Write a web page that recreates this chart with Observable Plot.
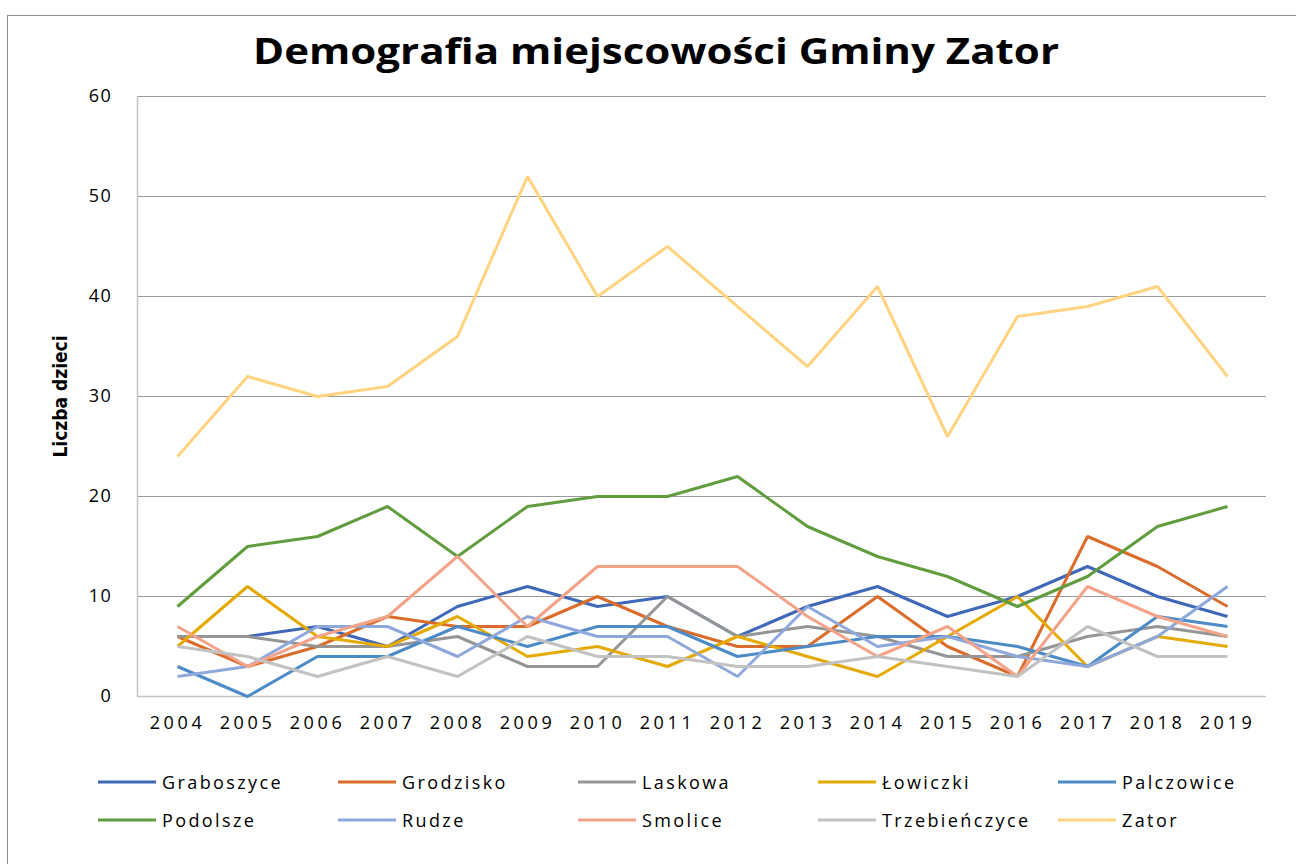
<!DOCTYPE html>
<html>
<head>
<meta charset="utf-8">
<script src="https://cdn.jsdelivr.net/npm/d3@7"></script>
<script src="https://cdn.jsdelivr.net/npm/@observablehq/plot@0.6"></script>
<style>
  html, body { margin: 0; padding: 0; background: #fff; }
  #wrap { position: relative; width: 1296px; height: 864px; overflow: hidden; background: #fff; font-family: "Open Sans", sans-serif; }
  #frame { position: absolute; left: 7px; top: 15px; width: 1400px; height: 1000px; border-left: 1px solid #8c8c8c; border-top: 1px solid #8c8c8c; }
  #title { position: absolute; left: 0; top: 20px; width: 1296px; height: 60px; }
  #plot { position: absolute; left: 0; top: 80px; }
  #legend { position: absolute; left: 98px; top: 763px; width: 1200px; }
  .lrow { display: flex; height: 38px; align-items: center; }
  .litem { display: flex; align-items: center; width: 242px; }
  .litem span { font-size: 18px; letter-spacing: 2.4px; color: #000; margin-left: 6px; }
</style>
</head>
<body>
<div id="wrap">
  <div id="frame"></div>
  <svg id="title" width="1296" height="60">
    <text id="titleText" x="656" y="44" text-anchor="middle" font-family="Open Sans" font-weight="bold" font-size="35" fill="#000" textLength="806" lengthAdjust="spacingAndGlyphs"></text>
  </svg>
  <div id="plot"></div>
  <div id="legend"></div>
</div>
<script>
const chartTitle = "Demografia miejscowości Gminy Zator";
const yTitle = "Liczba dzieci";
const years = ["2004","2005","2006","2007","2008","2009","2010","2011","2012","2013","2014","2015","2016","2017","2018","2019"];
const yTicks = [0, 10, 20, 30, 40, 50, 60];

const names = ["Graboszyce","Grodzisko","Laskowa","Łowiczki","Palczowice","Podolsze","Rudze","Smolice","Trzebieńczyce","Zator"];
const colors = ["#3f68b8","#da6d2b","#959595","#e5aa00","#4c8bc6","#619c3f","#8fa8dc","#f2a388","#c2c2c2","#ffd37f"];

const graboszyce    = [6, 6, 7, 5, 9, 11, 9, 10, 6, 9, 11, 8, 10, 13, 10, 8];
const grodzisko     = [6, 3, 5, 8, 7, 7, 10, 7, 5, 5, 10, 5, 2, 16, 13, 9];
const laskowa       = [6, 6, 5, 5, 6, 3, 3, 10, 6, 7, 6, 4, 4, 6, 7, 6];
const lowiczki      = [5, 11, 6, 5, 8, 4, 5, 3, 6, 4, 2, 6, 10, 3, 6, 5];
const palczowice    = [3, 0, 4, 4, 7, 5, 7, 7, 4, 5, 6, 6, 5, 3, 8, 7];
const podolsze      = [9, 15, 16, 19, 14, 19, 20, 20, 22, 17, 14, 12, 9, 12, 17, 19];
const rudze         = [2, 3, 7, 7, 4, 8, 6, 6, 2, 9, 5, 6, 4, 3, 6, 11];
const smolice       = [7, 3, 6, 8, 14, 7, 13, 13, 13, 8, 4, 7, 2, 11, 8, 6];
const trzebienczyce = [5, 4, 2, 4, 2, 6, 4, 4, 3, 3, 4, 3, 2, 7, 4, 4];
const zator         = [24, 32, 30, 31, 36, 52, 40, 45, 39, 33, 41, 26, 38, 39, 41, 32];

const seriesValues = [graboszyce, grodzisko, laskowa, lowiczki, palczowice, podolsze, rudze, smolice, trzebienczyce, zator];

const data = [];
names.forEach((name, i) => {
  seriesValues[i].forEach((v, j) => data.push({name, year: years[j], value: v}));
});

document.getElementById("titleText").textContent = chartTitle;

const chart = Plot.plot({
  width: 1296,
  height: 666,
  marginLeft: 137,
  marginRight: 30,
  marginTop: 16,
  marginBottom: 50,
  style: {fontFamily: "'Open Sans', sans-serif", fontSize: "18px", color: "#000", background: "transparent", overflow: "visible"},
  x: {type: "point", domain: years, padding: 0.5},
  y: {domain: [0, 60]},
  color: {domain: names, range: colors},
  marks: [
    Plot.gridY(yTicks.filter(d => d > 0), {stroke: "#9a9a9a", strokeOpacity: 1, strokeWidth: 1}),
    Plot.gridY([0], {stroke: "#c4c4c4", strokeOpacity: 1, strokeWidth: 1.5}),
    Plot.frame({anchor: "left", stroke: "#c4c4c4", strokeWidth: 1.5}),
    Plot.axisY(yTicks, {tickSize: 0, tickPadding: 25, label: null, fill: "#000", fontSize: 18}),
    Plot.axisX(years, {tickSize: 0, tickPadding: 20, label: null, fill: "#000", fontSize: 18}),
    Plot.text([yTitle], {frameAnchor: "left", textAnchor: "middle", dx: -77, rotate: -90, text: d => d, fontSize: 19, fontWeight: "bold", fontFamily: "'Liberation Sans Narrow', 'DejaVu Sans Condensed', sans-serif", fill: "#000"}),
    Plot.line(data, {x: "year", y: "value", z: "name", stroke: "name", strokeWidth: 3, strokeLinejoin: "miter", strokeLinecap: "butt"})
  ]
});
d3.select(chart).selectAll('g[aria-label="x-axis tick label"]')
  .attr("font-size", 18).style("letter-spacing", "3.6px");
d3.select(chart).selectAll('g[aria-label="y-axis tick label"]')
  .attr("font-size", 18).style("letter-spacing", "1.6px");
document.getElementById("plot").appendChild(chart);

// Legend
const legend = document.getElementById("legend");
for (let r = 0; r < 2; r++) {
  const row = document.createElement("div");
  row.className = "lrow";
  for (let c = 0; c < 5; c++) {
    const i = r * 5 + c;
    const item = document.createElement("div");
    item.className = "litem";
    const sw = document.createElementNS("http://www.w3.org/2000/svg", "svg");
    sw.setAttribute("width", "58");
    sw.setAttribute("height", "6");
    const ln = document.createElementNS("http://www.w3.org/2000/svg", "line");
    ln.setAttribute("x1", "0"); ln.setAttribute("x2", "58");
    ln.setAttribute("y1", "3"); ln.setAttribute("y2", "3");
    ln.setAttribute("stroke", colors[i]);
    ln.setAttribute("stroke-width", "3");
    sw.appendChild(ln);
    const sp = document.createElement("span");
    sp.textContent = names[i];
    item.appendChild(sw);
    item.appendChild(sp);
    row.appendChild(item);
  }
  legend.appendChild(row);
}
</script>
</body>
</html>
